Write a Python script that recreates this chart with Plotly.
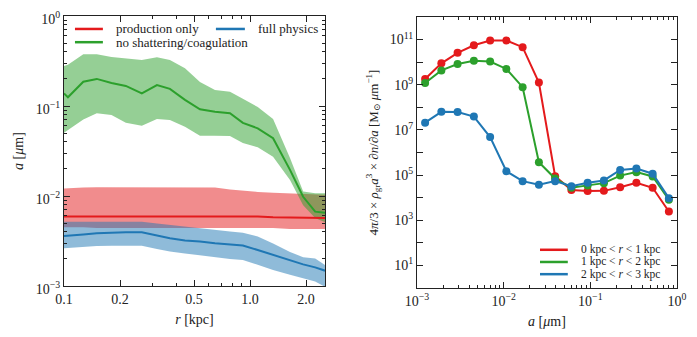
import plotly.graph_objects as go

# left panel: grain size vs radius (median and 16-84 band)
r_kpc = [0.1, 0.105, 0.127, 0.15, 0.18, 0.215, 0.262, 0.316, 0.371, 0.447,
         0.538, 0.648, 0.78, 0.915, 1.1, 1.33, 1.64, 1.93, 2.24, 2.53]

prod_mid = [0.0059, 0.0059, 0.006, 0.006, 0.006, 0.006, 0.006, 0.0059, 0.0059, 0.006,
            0.006, 0.006, 0.0059, 0.0059, 0.0059, 0.0058, 0.0058, 0.0058, 0.0058, 0.0057]
prod_hi = [0.0121, 0.0122, 0.0124, 0.0125, 0.0125, 0.0125, 0.0124, 0.0124, 0.0125, 0.0126,
           0.0126, 0.0124, 0.0118, 0.0114, 0.0111, 0.0109, 0.0107, 0.0106, 0.0105, 0.0103]
prod_lo = [0.0045, 0.0045, 0.0045, 0.0044, 0.0044, 0.0044, 0.0044, 0.0044, 0.0044, 0.0044,
           0.0044, 0.0044, 0.0044, 0.0044, 0.0044, 0.0044, 0.0043, 0.0043, 0.0043, 0.0043]

noshat_mid = [0.138, 0.125, 0.186, 0.200, 0.180, 0.167, 0.138, 0.171, 0.155, 0.117,
              0.092, 0.0865, 0.083, 0.065, 0.0565, 0.0438, 0.0195, 0.0098, 0.0067, 0.0065]
noshat_hi = [0.278, 0.288, 0.375, 0.375, 0.35, 0.337, 0.324, 0.348, 0.324, 0.262,
             0.185, 0.151, 0.144, 0.120, 0.0975, 0.0717, 0.0264, 0.0112, 0.0107, 0.0107]
noshat_lo = [0.0505, 0.054, 0.071, 0.083, 0.0794, 0.0652, 0.0604, 0.0717, 0.0699, 0.0589,
             0.0468, 0.0468, 0.0464, 0.0388, 0.0348, 0.0273, 0.0151, 0.0079, 0.0057, 0.0051]

full_mid = [0.00360, 0.00362, 0.00374, 0.00385, 0.00393, 0.00395, 0.00395, 0.00364, 0.00339, 0.00320,
            0.00312, 0.00298, 0.00289, 0.00282, 0.00251, 0.00221, 0.00195, 0.00174, 0.00161, 0.00148]
full_hi = [0.00518, 0.00518, 0.00518, 0.00518, 0.00518, 0.00518, 0.00518, 0.00495, 0.00476, 0.00456,
           0.00441, 0.00422, 0.00403, 0.00390, 0.00355, 0.00297, 0.00239, 0.00209, 0.00202, 0.00171]
full_lo = [0.00262, 0.00264, 0.00271, 0.00278, 0.00280, 0.00280, 0.00280, 0.00258, 0.00241, 0.00230,
           0.00219, 0.00208, 0.00200, 0.00195, 0.00171, 0.00151, 0.00133, 0.00122, 0.00112, 0.00098]

# right panel: grain size distributions in radial shells
a_um = [0.00124, 0.00191, 0.00294, 0.00453, 0.00698, 0.01075, 0.01655, 0.02549,
        0.03926, 0.06046, 0.0931, 0.1434, 0.2208, 0.340, 0.5236, 0.806]
shell_0_1 = [1.8e9, 8.9e9, 2.6e10, 5.6e10, 9.1e10, 9.1e10, 4.6e10, 1.26e9,
             8.9e4, 2.2e4, 1.95e4, 2.0e4, 2.9e4, 4.6e4, 2.75e4, 2.45e3]
shell_1_2 = [1.2e9, 4.3e9, 8.3e9, 1.15e10, 1.07e10, 5.0e9, 7.8e8, 3.7e5,
             7.0e4, 2.75e4, 3.5e4, 4.4e4, 9.5e4, 1.35e5, 8.7e4, 8.1e3]
shell_2_3 = [2.1e7, 6.3e7, 6.2e7, 3.9e7, 4.8e6, 1.48e5, 5.4e4, 3.7e4,
             5.4e4, 3.2e4, 4.6e4, 5.8e4, 1.7e5, 1.95e5, 1.15e5, 9.5e3]

RED, GREEN, BLUE = "#e41a1c", "#2ca02c", "#1f77b4"
FILLS = {RED: "rgba(228,26,28,0.5)", GREEN: "rgba(44,160,44,0.5)", BLUE: "rgba(31,119,180,0.5)"}
FONT = "Liberation Serif, DejaVu Serif, serif"
INK = "#222"

# page body keeps an 8px margin, so the figure is 8px smaller than the window
W, H = 689, 329

def px_x(p):
    return (p - 8) / W

def px_y(p):
    return 1 - (p - 8) / H

fig = go.Figure()

left_series = [
    (prod_lo, prod_mid, prod_hi, RED),
    (noshat_lo, noshat_mid, noshat_hi, GREEN),
    (full_lo, full_mid, full_hi, BLUE),
]
for lo, mid, hi, col in left_series:
    fig.add_trace(go.Scatter(x=r_kpc, y=lo, mode="lines", line=dict(width=0),
                             showlegend=False, hoverinfo="skip", xaxis="x", yaxis="y"))
    fig.add_trace(go.Scatter(x=r_kpc, y=hi, mode="lines", line=dict(width=0), fill="tonexty",
                             fillcolor=FILLS[col], showlegend=False, hoverinfo="skip",
                             xaxis="x", yaxis="y"))
for lo, mid, hi, col in left_series:
    fig.add_trace(go.Scatter(x=r_kpc, y=mid, mode="lines", line=dict(color=col, width=2),
                             showlegend=False, xaxis="x", yaxis="y"))

for ys, col in [(shell_0_1, RED), (shell_1_2, GREEN), (shell_2_3, BLUE)]:
    fig.add_trace(go.Scatter(x=a_um, y=ys, mode="lines+markers",
                             line=dict(color=col, width=2), marker=dict(color=col, size=8),
                             showlegend=False, xaxis="x2", yaxis="y2"))

def decade_minor(lo, hi):
    return [m * 10 ** e for e in range(lo, hi) for m in range(2, 10)]

axis_common = dict(type="log", showgrid=False, zeroline=False, showline=True, automargin=False,
                   linecolor=INK, linewidth=1, mirror="allticks", ticks="inside",
                   ticklen=6, tickcolor=INK, tickfont=dict(family=FONT, size=14, color=INK),
                   tickmode="array", ticklabeloverflow="allow")
minor_common = dict(tickmode="array", ticks="inside", ticklen=3, tickcolor=INK)
pow_labels = ["10<sup>\u22123</sup>", "10<sup>\u22122</sup>", "10<sup>\u22121</sup>", "10<sup>0</sup>"]

fig.update_layout(
    width=W, height=H,
    margin=dict(l=0, r=0, t=0, b=0),
    plot_bgcolor="white", paper_bgcolor="white",
    showlegend=False,
    xaxis=dict(axis_common, domain=[px_x(64), px_x(325)], anchor="y", range=[-1, 0.403],
               tickvals=[0.1, 0.2, 0.5, 1.0, 2.0], ticktext=["0.1", "0.2", "0.5", "1.0", "2.0"],
               minor=dict(minor_common, tickvals=[0.3, 0.4, 0.6, 0.7, 0.8, 0.9]),
               title=dict(text="<i>r</i> [kpc]", font=dict(family=FONT, size=14, color=INK),
                          standoff=8)),
    yaxis=dict(axis_common, domain=[px_y(286), px_y(16)], anchor="x", range=[-3, 0],
               tickvals=[1e-3, 1e-2, 1e-1, 1], ticktext=pow_labels, ticklabelshift=3,
               minor=dict(minor_common, tickvals=decade_minor(-3, 0)),
               title=dict(text="<i>a</i> [<i>\u03bc</i>m]", font=dict(family=FONT, size=14, color=INK),
                          standoff=8)),
    xaxis2=dict(axis_common, domain=[px_x(417), px_x(677)], anchor="y2", range=[-3, 0],
                tickvals=[1e-3, 1e-2, 1e-1, 1], ticktext=pow_labels,
                minor=dict(minor_common, tickvals=decade_minor(-3, 0)),
                title=dict(text="<i>a</i> [<i>\u03bc</i>m]", font=dict(family=FONT, size=14, color=INK),
                           standoff=8)),
    yaxis2=dict(axis_common, domain=[px_y(288), px_y(17)], anchor="x2", range=[0, 12],
                tickvals=[10 ** e for e in range(0, 13)],
                ticktext=["10<sup>%d</sup>" % e if e % 2 else "" for e in range(0, 13)],
                title=dict(text="4<i>\u03c0</i>/3 \u00d7 <i>\u03c1</i><sub>gr</sub><i>a</i><sup>3</sup>"
                                " \u00d7 <i>\u2202n</i>/<i>\u2202a</i> [M<sub>\u2299</sub> <i>\u03bc</i>m<sup>\u22121</sup>]",
                           font=dict(family=FONT, size=13, color=INK), standoff=8)),
)

# legend entries drawn as short line segments with text beside them
def legend_entry(xref, yref, x0, x1, y, text, col, size):
    fig.add_shape(type="line", xref=xref, yref=yref, x0=x0, x1=x1, y0=y, y1=y,
                  line=dict(color=col, width=2.5))
    fig.add_annotation(xref=xref, yref=yref, x=x1 + 0.045, y=y, text=text, showarrow=False,
                       xanchor="left", yanchor="middle", borderpad=0,
                       font=dict(family=FONT, size=size, color=INK))

legend_entry("x domain", "y domain", 0.042, 0.149, 0.952, "production only", RED, 13)
legend_entry("x domain", "y domain", 0.042, 0.149, 0.903, "no shattering/coagulation", GREEN, 13)
legend_entry("x domain", "y domain", 0.582, 0.693, 0.952, "full physics", BLUE, 13)

legend_entry("x2 domain", "y2 domain", 0.473, 0.58, 0.141, "0 kpc &lt; <i>r</i> &lt; 1 kpc", RED, 11.5)
legend_entry("x2 domain", "y2 domain", 0.473, 0.58, 0.096, "1 kpc &lt; <i>r</i> &lt; 2 kpc", GREEN, 11.5)
legend_entry("x2 domain", "y2 domain", 0.473, 0.58, 0.051, "2 kpc &lt; <i>r</i> &lt; 3 kpc", BLUE, 11.5)

fig.write_html("out.html")
